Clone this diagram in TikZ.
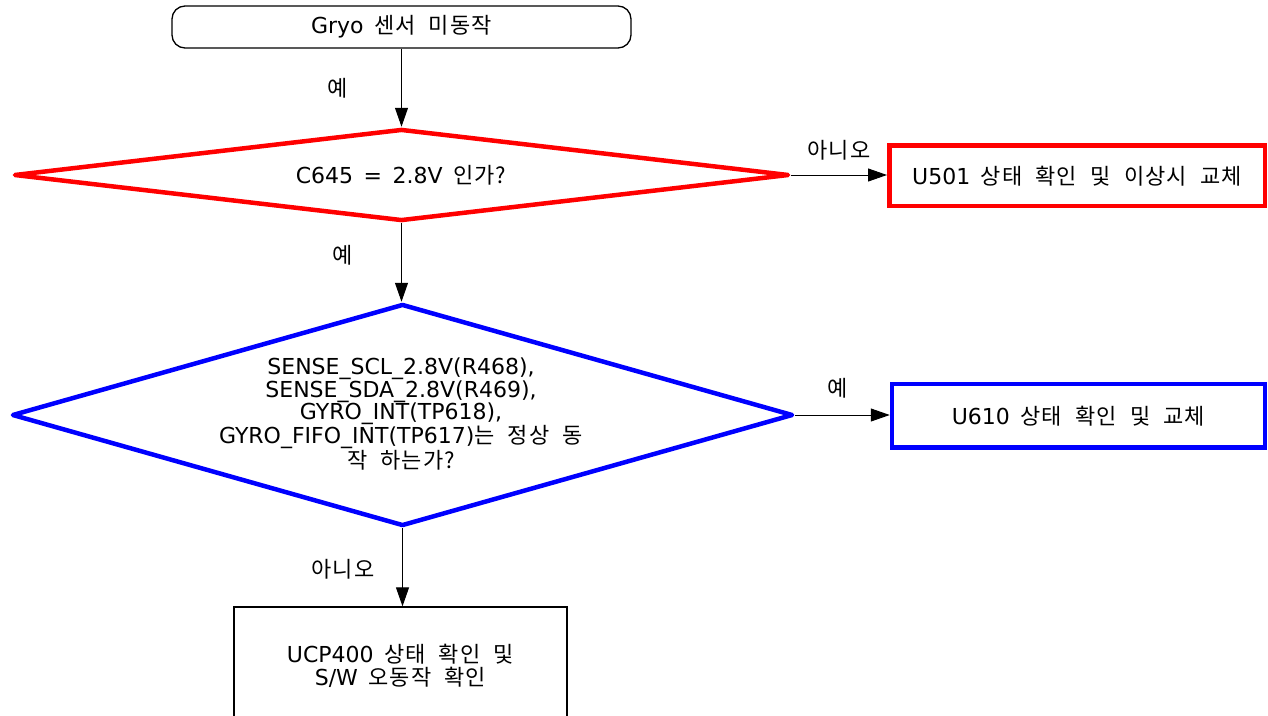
\documentclass[tikz,border=0pt]{standalone}
\usepackage{fontspec}
\setmainfont{DejaVu Sans}[WordSpace=1.5]
\newfontfamily\krfont{Noto Sans CJK KR}[WordSpace=2.2,LetterSpace=5]
\newcommand\kor[1]{{\krfont #1}}
\usetikzlibrary{shapes.geometric,arrows.meta}
\begin{document}
\begin{tikzpicture}[x=1pt,y=-1pt,
  font=\fontsize{22}{22.5}\selectfont,
  flow/.style={draw=black, line width=1pt, -{Triangle[length=19pt,width=13pt]}},
  lbl/.style={inner sep=0pt, text=black},
  txt/.style={inner sep=0pt, align=center, text=black},
  startbox/.style={draw=black, line width=1.3pt, rounded corners=13pt, inner sep=0pt},
  dia/.style={diamond, inner sep=0pt, line width=4.5pt, line join=round},
  redbox/.style={draw=red, line width=4.5pt, inner sep=0pt},
  bluebox/.style={draw=blue, line width=4.5pt, inner sep=0pt},
  plainbox/.style={draw=black, line width=1.3pt, inner sep=0pt}]
\clip (0,0) rectangle (1268,715);
\fill[white] (0,0) rectangle (1268,715);

% start
\node[startbox, minimum width=459pt, minimum height=42pt] (start) at (401.5,27) {Gryo \kor{센서 미동작}};

% red decision
\node[dia, draw=red, minimum width=775pt, minimum height=92pt] (d1) at (401.5,175) {};
\node[txt] (t1) at (401,175.5) {C645 = 2.8V \kor{인가?}};

% red box
\node[redbox, minimum width=375.5pt, minimum height=60.7pt] (b1) at (1077,175.7) {U501 \kor{상태 확인 및 이상시 교체}};

% blue decision
\node[dia, draw=blue, minimum width=781pt, minimum height=222pt] (d2) at (402.5,415) {};
\node[txt] (t2) at (401,414) {SENSE\_SCL\_2.8V(R468),\\SENSE\_SDA\_2.8V(R469),\\GYRO\_INT(TP618),\\GYRO\_FIFO\_INT(TP617)\kor{는 정상 동}\\\kor{작 하는가?}};

% blue box
\node[bluebox, minimum width=373pt, minimum height=63.5pt] (b2) at (1078.5,415.7) {U610 \kor{상태 확인 및 교체}};

% bottom box
\node[plainbox, minimum width=333pt, minimum height=120pt] (b3) at (400.5,667) {};
\node[txt] (t3) at (400.5,666) {UCP400 \kor{상태 확인 및}\\S/W \kor{오동작 확인}};

% connectors
\draw[flow] (start.south) -- (d1.north);
\draw[flow] (d1.east) -- (d1.east -| b1.west);
\draw[flow] (d1.south) -- (d1.south |- d2.north);
\draw[flow] (d2.east) -- (d2.east -| b2.west);
\draw[flow] (d2.south) -- (d2.south |- b3.north);

% labels
\node[lbl] (l1) at (337.5,88) {\kor{예}};
\node[lbl] (l2) at (839,150) {\kor{아니오}};
\node[lbl] (l3) at (343,255) {\kor{예}};
\node[lbl] (l4) at (838,388) {\kor{예}};
\node[lbl] (l5) at (343,569) {\kor{아니오}};
\end{tikzpicture}
\end{document}
